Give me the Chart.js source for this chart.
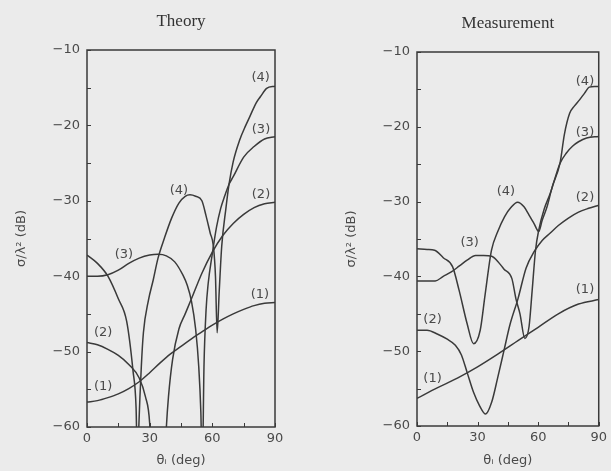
<!DOCTYPE html>
<html>
<head>
<meta charset="utf-8">
<script src="https://cdn.jsdelivr.net/npm/chart.js@4.4.1/dist/chart.umd.min.js"></script>
<style>
  html, body { margin: 0; padding: 0; background: #ebebeb; }
  #wrap { position: relative; width: 611px; height: 471px; overflow: hidden; }
  .panel { position: absolute; top: 0; height: 471px; }
</style>
</head>
<body>
<div id="wrap">
  <div class="panel" style="left:0;width:330px"><canvas id="theory" width="330" height="471"></canvas></div>
  <div class="panel" style="left:330px;width:281px"><canvas id="measurement" width="281" height="471"></canvas></div>
</div>
<script>
// incidence angle (deg) and sigma/lambda^2 (dB)
// values below -60 are nulls that run off the bottom of the axes

// Theory
const th1Deg = [0, 5, 10, 15, 20, 25, 30, 35, 40, 45, 50, 55, 60, 65, 70, 75, 80, 85, 90];
const th1Db = [-56.7, -56.5, -56.1, -55.6, -54.9, -54, -52.8, -51.5, -50.3, -49.3, -48.3, -47.4, -46.5, -45.7, -45, -44.4, -43.9, -43.6, -43.5];

const th2Deg = [0, 5, 10, 15, 20, 25, 28, 30, 31, 37, 38, 39, 41, 44, 47, 50, 55, 60, 65, 70, 75, 80, 85, 90];
const th2Db = [-48.8, -49.1, -49.7, -50.5, -51.7, -53.5, -56, -59.5, -66, -66, -60, -56, -51, -47, -45, -43, -39.6, -36.8, -34.6, -33, -31.8, -30.9, -30.4, -30.2];

const th3Deg = [0, 5, 10, 15, 20, 25, 30, 34, 38, 42, 46, 48, 50, 52, 53.5, 54.5, 55.2, 56, 57, 58, 60, 62, 64, 66, 68, 70, 75, 80, 85, 90];
const th3Db = [-40, -40, -39.8, -39.2, -38.3, -37.6, -37.2, -37.1, -37.3, -38.1, -39.9, -41.2, -43.3, -47, -52, -58, -66, -52, -44.5, -41, -37, -33.5, -31, -29.3, -27.8, -26.8, -24.2, -22.8, -21.8, -21.5];

const th4Deg = [0, 5, 10, 15, 19, 22, 23.5, 24.2, 24.8, 26, 27, 29.4, 31.7, 34, 37, 40.5, 44, 47, 49.3, 52, 55, 57, 59, 60.5, 61.5, 62.3, 63.3, 64.5, 66.5, 68, 70, 73, 76, 78, 81, 83, 86, 90];
const th4Db = [-37.2, -38.3, -40, -43, -46, -52.5, -57.5, -66, -60, -52, -47.5, -43.2, -40.5, -37.6, -35, -32.3, -30.3, -29.4, -29.2, -29.4, -30, -32, -34.3, -36, -40, -47.5, -42, -36, -31, -27.8, -24.8, -22, -20, -18.8, -17, -16.2, -15.1, -14.8];

// Measurement
const m1Deg = [0, 10, 20, 30, 40, 50, 60, 70, 80, 90];
const m1Db = [-56.3, -54.9, -53.6, -52.1, -50.4, -48.6, -46.8, -45, -43.7, -43.1];

const m2Deg = [0, 5, 10, 15, 19, 22, 25, 28, 31, 34, 37, 40, 43, 46, 50, 54, 58, 62, 66, 70, 75, 80, 85, 90];
const m2Db = [-47.2, -47.2, -47.7, -48.4, -49.2, -50.5, -53, -55.5, -57.3, -58.4, -56.8, -53.5, -50, -46.5, -43, -38.9, -36.7, -35.2, -34.2, -33.2, -32.2, -31.4, -30.9, -30.5];

const m3Deg = [0, 5, 9, 13, 17, 21, 25, 29, 33, 37, 40, 43, 47, 49, 51, 53.4, 55.5, 57, 58.7, 60.3, 63, 66, 70.8, 74, 77, 80, 84, 90];
const m3Db = [-40.6, -40.6, -40.6, -40, -39.4, -38.6, -37.8, -37.2, -37.2, -37.3, -38, -39, -40.3, -43, -45, -48.3, -46.7, -42, -36.5, -33.8, -31, -28.9, -24.9, -23.5, -22.6, -22, -21.5, -21.3];

const m4Deg = [0, 5, 8.7, 13, 17.6, 20.8, 24.8, 28, 31.3, 33.7, 36.9, 40, 43.4, 46.5, 49.8, 53, 55.5, 57.9, 60.3, 62, 64.4, 67, 70.8, 73, 75.6, 78, 80.5, 83, 85.3, 88, 90];
const m4Db = [-36.3, -36.4, -36.5, -37.5, -38.7, -41.8, -46.3, -49, -47.2, -42.5, -36.5, -34, -32, -30.8, -30.1, -30.7, -31.8, -32.9, -34, -32.5, -30.7, -28, -24.9, -21, -18.2, -17.2, -16.4, -15.5, -14.7, -14.6, -14.6];

// curve tags, placed in data units
const theoryTags = [
  { text: '(4)', x: 83.1, y: -13.7 },
  { text: '(3)', x: 83.3, y: -20.6 },
  { text: '(2)', x: 83.3, y: -29.2 },
  { text: '(4)', x: 44, y: -28.6 },
  { text: '(3)', x: 17.7, y: -37.2 },
  { text: '(2)', x: 7.7, y: -47.5 },
  { text: '(1)', x: 7.7, y: -54.6 },
  { text: '(1)', x: 82.8, y: -42.4 },
];
const measurementTags = [
  { text: '(4)', x: 83.2, y: -14 },
  { text: '(3)', x: 83.2, y: -20.8 },
  { text: '(2)', x: 83.2, y: -29.5 },
  { text: '(4)', x: 44, y: -28.7 },
  { text: '(3)', x: 26.1, y: -35.5 },
  { text: '(2)', x: 7.7, y: -45.8 },
  { text: '(1)', x: 7.7, y: -53.7 },
  { text: '(1)', x: 83.2, y: -41.8 },
];

const LINE = '#3a3a3a';
const TEXT = '#4a4a4a';
const sans = { family: 'DejaVu Sans', size: 13 };

// box frame, inward tick marks and the (n) tags
const framePlugin = {
  id: 'frame',
  afterDatasetsDraw(chart, args, opts) {
    const { ctx, chartArea: a, scales: { x, y } } = chart;
    ctx.save();
    ctx.strokeStyle = LINE;
    ctx.lineWidth = 1.5;
    ctx.strokeRect(a.left, a.top, a.right - a.left, a.bottom - a.top);
    ctx.lineWidth = 1;
    ctx.beginPath();
    y.ticks.forEach((t) => {
      const py = Math.round(y.getPixelForValue(t.value)) + 0.5;
      ctx.moveTo(a.left, py);
      ctx.lineTo(a.left + 4, py);
    });
    x.ticks.forEach((t) => {
      const px = Math.round(x.getPixelForValue(t.value)) + 0.5;
      ctx.moveTo(px, a.bottom);
      ctx.lineTo(px, a.bottom - 4);
    });
    ctx.stroke();

    ctx.fillStyle = TEXT;
    ctx.font = '13px "DejaVu Sans"';
    ctx.textAlign = 'center';
    ctx.textBaseline = 'middle';
    (opts.tags || []).forEach((t) => {
      ctx.fillText(t.text, x.getPixelForValue(t.x), y.getPixelForValue(t.y));
    });
    ctx.restore();
  },
};

function buildChart(id, title, curves, tags, pad) {
  const ctx = document.getElementById(id).getContext('2d');
  return new Chart(ctx, {
    type: 'line',
    data: {
      datasets: curves.map(([deg, db]) => ({
        data: deg.map((d, i) => ({ x: d, y: db[i] })),
        borderColor: LINE,
        borderWidth: 1.5,
        pointRadius: 0,
        cubicInterpolationMode: 'monotone',
        fill: false,
      })),
    },
    options: {
      responsive: false,
      animation: false,
      layout: { padding: pad.layout },
      plugins: {
        legend: { display: false },
        tooltip: { enabled: false },
        title: {
          display: true,
          text: title,
          fullSize: false,
          color: '#333',
          font: { family: 'Liberation Serif', size: 17, weight: 'normal' },
          padding: { top: 11, bottom: 18.6 },
        },
        frame: { tags },
      },
      scales: {
        x: {
          type: 'linear',
          min: 0,
          max: 90,
          grid: { display: false, drawTicks: false },
          border: { display: false },
          ticks: {
            stepSize: 15,
            autoSkip: false,
            maxRotation: 0,
            padding: 4,
            color: TEXT,
            font: sans,
            callback: (v) => (v % 30 === 0 ? String(v) : ''),
          },
          title: {
            display: true,
            text: 'θᵢ (deg)',
            color: TEXT,
            font: sans,
            padding: { top: 0, bottom: 3 },
          },
          afterFit: (s) => { s.height = pad.xHeight; },
        },
        y: {
          min: -60,
          max: -10,
          grid: { display: false, drawTicks: false },
          border: { display: false },
          ticks: {
            stepSize: 5,
            autoSkip: false,
            padding: 7,
            color: TEXT,
            font: sans,
            callback: (v) => (v % 10 === 0 ? '−' + Math.abs(v) : ''),
          },
          title: {
            display: true,
            text: 'σ/λ² (dB)',
            color: TEXT,
            font: sans,
            padding: { top: 14, bottom: 0 },
          },
          afterFit: (s) => { s.width = 87; },
        },
      },
    },
    plugins: [framePlugin],
  });
}

buildChart('theory', 'Theory',
  [[th1Deg, th1Db], [th2Deg, th2Db], [th3Deg, th3Db], [th4Deg, th4Db]],
  theoryTags,
  { layout: { left: 0, right: 55, top: 0, bottom: 0 }, xHeight: 44 });

buildChart('measurement', 'Measurement',
  [[m1Deg, m1Db], [m2Deg, m2Db], [m3Deg, m3Db], [m4Deg, m4Db]],
  measurementTags,
  { layout: { left: 0, right: 8, top: 2, bottom: 0 }, xHeight: 45 });
</script>
</body>
</html>
